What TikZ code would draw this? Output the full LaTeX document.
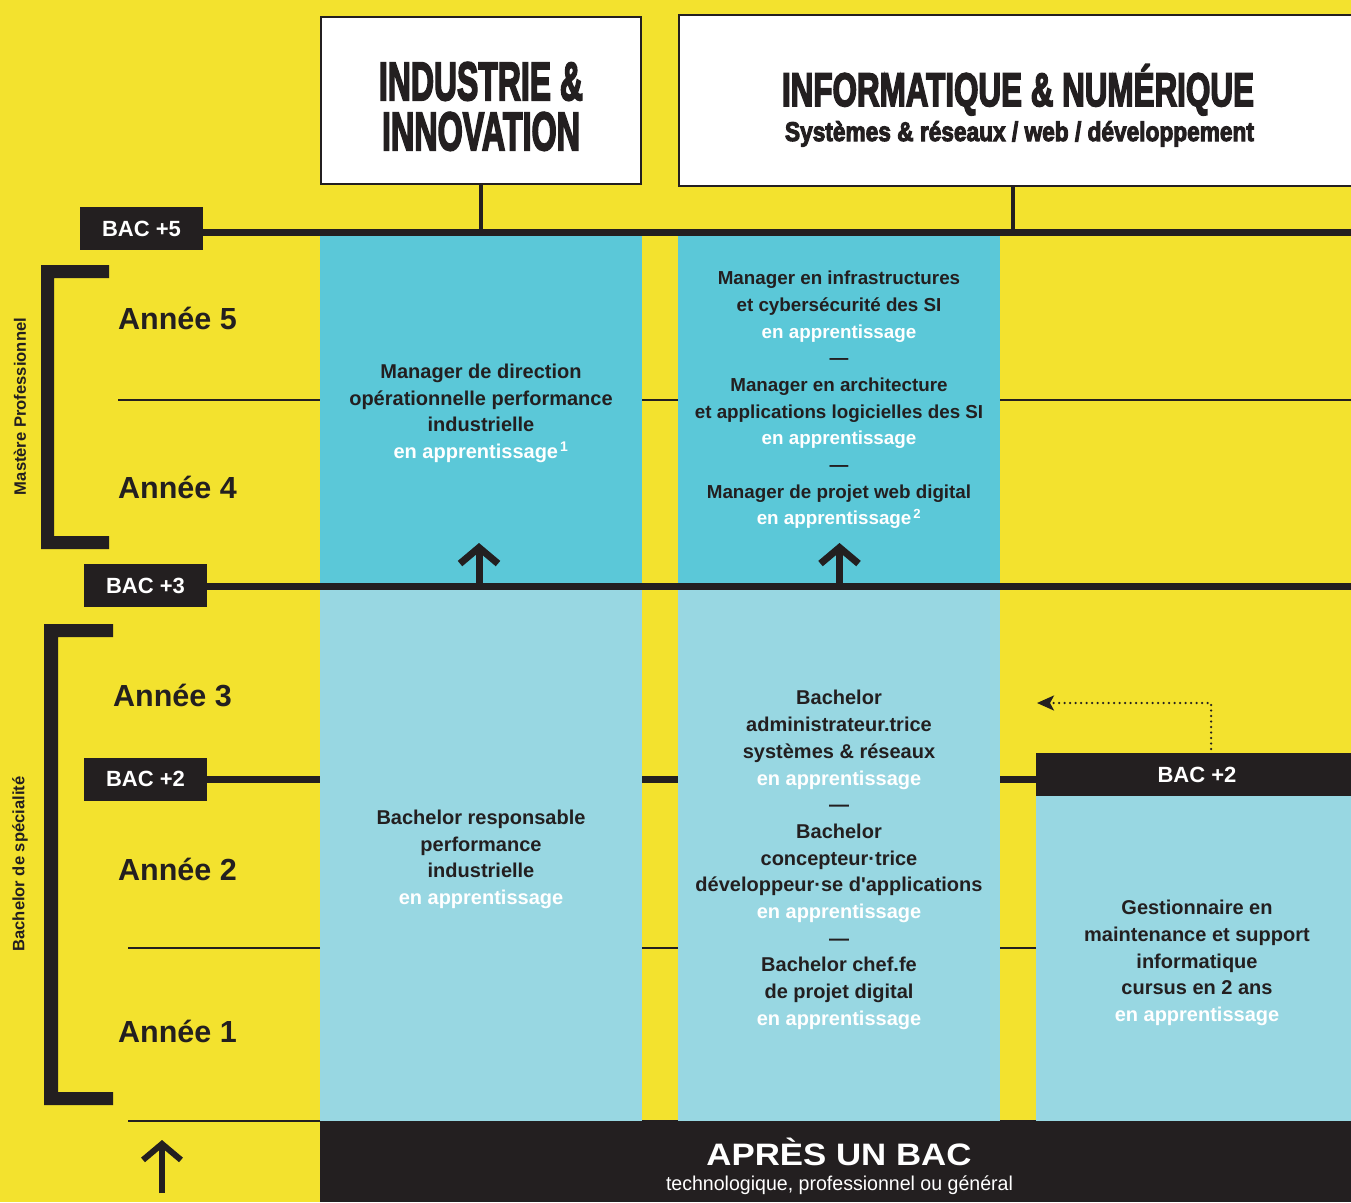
\documentclass[tikz,border=0pt]{standalone}
\usepackage{fontspec}
\setmainfont{Liberation Sans}[Ligatures=TeXOff]
\newfontfamily\heavyfont{Liberation Sans Bold}[FakeBold=4]
\usetikzlibrary{arrows.meta}
\definecolor{yel}{HTML}{F3E22E}
\definecolor{cyanA}{HTML}{5BC8D8}
\definecolor{blueB}{HTML}{98D7E2}
\definecolor{ink}{HTML}{231F20}
\pgfdeclarelayer{base}
\pgfdeclarelayer{bg}
\pgfsetlayers{base,bg,main}
\newcommand\appr{\textcolor{white}{en apprentissage}}
\tikzset{
  panel/.style={rectangle, inner sep=0pt, draw=none},
  hbox/.style={rectangle, inner sep=0pt, fill=white, draw=ink, line width=2.5pt},
  bac/.style={rectangle, fill=ink, text=white, font=\fontsize{22}{22}\selectfont\bfseries, minimum width=123pt, minimum height=43pt, inner sep=0pt},
  year/.style={anchor=base west, text=ink, font=\fontsize{30.5}{30.5}\selectfont\bfseries, inner sep=0pt},
  bodytext/.style={align=center, text=ink, font=\fontsize{20}{26.7}\selectfont\bfseries, inner sep=0pt},
  vtext/.style={rotate=90, text=ink, inner sep=0pt},
  headtxt/.style={anchor=base, text=ink, inner sep=0pt},
  bacline/.style={draw=ink, line width=7pt},
  thinline/.style={draw=ink, line width=1.3pt},
  stem/.style={draw=ink, line width=4pt},
  uparrow/.style={draw=ink, line width=7pt, -{Straight Barb[length=16pt,width=38pt]}},
  dotline/.style={draw=ink, line width=2.5pt, dash pattern=on 0pt off 5.5pt, line cap=round, -{Stealth[length=17pt,width=15pt,inset=4pt]}},
}
\begin{document}
\begin{tikzpicture}[x=1pt,y=-1pt]
\useasboundingbox (0,0) rectangle (1351,1202);
\begin{pgfonlayer}{base}
\fill[yel] (0,0) rectangle (1351,1202);
\end{pgfonlayer}

% header boxes
\node[hbox, minimum width=320pt, minimum height=167pt] (h1) at (481,100.5) {};
\node[hbox, minimum width=686pt, minimum height=171pt] (h2) at (1022,100.5) {};
\node[headtxt] (h1a) at (481,100) {\resizebox{204pt}{\height}{\fontsize{54}{54}\selectfont\heavyfont INDUSTRIE \&}};
\node[headtxt] (h1b) at (481,150) {\resizebox{198pt}{\height}{\fontsize{54}{54}\selectfont\heavyfont INNOVATION}};
\node[headtxt] (h2a) at (1018,106) {\resizebox{472pt}{\height}{\fontsize{47}{47}\selectfont\heavyfont INFORMATIQUE \& NUMÉRIQUE}};
\node[headtxt] (h2b) at (1019.5,141) {\resizebox{469pt}{\height}{\fontsize{27}{27}\selectfont\heavyfont Systèmes \& réseaux / web / développement}};

% panels
\node[panel, fill=cyanA, minimum width=322pt, minimum height=346.5pt] (p1u) at (481,409.25) {};
\node[panel, fill=cyanA, minimum width=322pt, minimum height=346.5pt] (p2u) at (839,409.25) {};
\node[panel, fill=blueB, minimum width=322pt, minimum height=531.5pt] (p1l) at (481,855.25) {};
\node[panel, fill=blueB, minimum width=322pt, minimum height=531.5pt] (p2l) at (839,855.25) {};
\node[panel, fill=blueB, minimum width=315pt, minimum height=325pt] (p3l) at (1193.5,958.5) {};
\node[panel, fill=ink, minimum width=315pt, minimum height=43pt, text=white, font=\fontsize{22}{22}\selectfont\bfseries] (bac2r) at (1193.5,774.5) {\hspace*{7pt}BAC +2};
\node[panel, fill=ink, minimum width=1031pt, minimum height=81pt] (band) at (835.5,1161.5) {};
\node[headtxt, text=white] (bandA) at (839,1165) {\resizebox{265pt}{\height}{\fontsize{31}{31}\selectfont\bfseries APRÈS UN BAC}};
\node[headtxt, text=white] (bandB) at (839.5,1190) {\resizebox{347pt}{\height}{\fontsize{20}{20}\selectfont technologique, professionnel ou général}};

% BAC labels
\node[bac] (bac5) at (141.5,228.5) {BAC +5};
\node[bac] (bac3) at (145.5,585.5) {BAC +3};
\node[bac] (bac2) at (145.5,779) {BAC +2};

% reference coordinates
\coordinate (r5) at (1351,232);
\coordinate (r3) at (1351,586);
\coordinate (t4a) at (118,400);
\coordinate (t2a) at (128,948);
\coordinate (t0a) at (128,1121);

\begin{pgfonlayer}{bg}
\draw[thinline] (t4a) -- (t4a -| r5);
\draw[thinline] (t2a) -- (t2a -| p3l.west);
\draw[thinline] (t0a) -- (t0a -| r5);
\draw[bacline] (bac5.east |- r5) -- (r5);
\draw[bacline] (bac3.east |- r3) -- (r3);
\draw[bacline] (bac2) -- (bac2r.west |- bac2);
\draw[stem] (h1.south) -- (h1.south |- r5);
\draw[stem] (h2.south -| 1012.5,0) -- (1012.5,232);
\end{pgfonlayer}

% brackets
\fill[ink] (41,265) -- (109,265) -- (109,278) -- (54,278) -- (54,536) -- (109,536) -- (109,549) -- (41,549) -- cycle;
\fill[ink] (44,624) -- (113,624) -- (113,637) -- (58,637) -- (58,1092) -- (113,1092) -- (113,1105) -- (44,1105) -- cycle;
\node[vtext] (vm) at (20,406.5) {\resizebox{177pt}{\height}{\fontsize{16.5}{16.5}\selectfont\bfseries Mastère Professionnel}};
\node[vtext] (vb) at (20,864) {\resizebox{175pt}{\height}{\fontsize{16.5}{16.5}\selectfont\bfseries Bachelor de spécialité}};

% years
\node[year] (y5) at (118,329) {Année 5};
\node[year] (y4) at (118,498) {Année 4};
\node[year] (y3) at (113,706) {Année 3};
\node[year] (y2) at (118,880) {Année 2};
\node[year] (y1) at (118,1042) {Année 1};

% texts
\node[bodytext] (t1u) at (481,413.5) {Manager de direction\\opérationnelle performance\\industrielle\\\appr\kern2pt\textsuperscript{\textcolor{white}{1}}};
\node[bodytext, font=\fontsize{18.8}{26.7}\selectfont\bfseries] (t2u) at (839,400) {Manager en infrastructures\\et cybersécurité des SI\\\appr\\—\\Manager en architecture\\et applications logicielles des SI\\\appr\\—\\Manager de projet web digital\\\appr\kern2pt\textsuperscript{\textcolor{white}{2}}};
\node[bodytext] (t1l) at (481,859.5) {Bachelor responsable\\performance\\industrielle\\\appr};
\node[bodytext] (t2l) at (839,860) {Bachelor\\administrateur.trice\\systèmes \& réseaux\\\appr\\—\\Bachelor\\concepteur·trice\\développeur·se d'applications\\\appr\\—\\Bachelor chef.fe\\de projet digital\\\appr};
\node[bodytext] (t3l) at (1197,963) {Gestionnaire en\\maintenance et support\\informatique\\cursus en 2 ans\\\appr};

% arrows
\coordinate (a1tip) at (479,543);
\coordinate (a2tip) at (839.5,543);
\coordinate (a0tip) at (162,1140);
\coordinate (a0base) at (162,1193);
\draw[uparrow] (a1tip |- bac3) -- (a1tip);
\draw[uparrow] (a2tip |- bac3) -- (a2tip);
\draw[uparrow, line width=6pt] (a0base) -- (a0tip);
\coordinate (dst) at (1211,749);
\coordinate (dtip) at (1037,703);
\draw[dotline] (dst) |- (dtip);
\end{tikzpicture}
\end{document}
